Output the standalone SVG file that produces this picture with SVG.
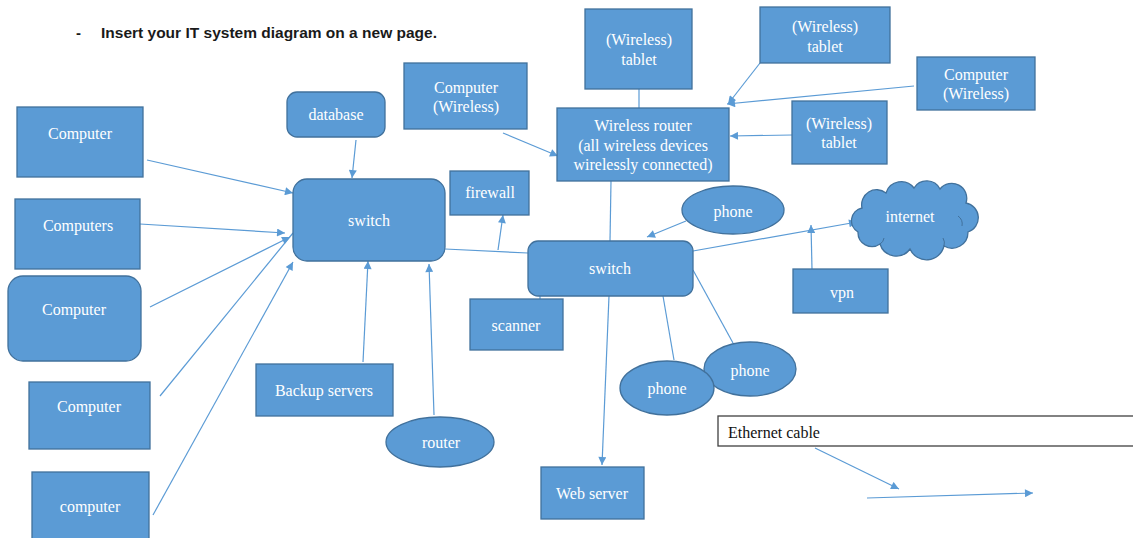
<svg xmlns="http://www.w3.org/2000/svg" width="1133" height="538" viewBox="0 0 1133 538">
<style>
.n{fill:#5B9BD5;stroke:#41719C;stroke-width:1.3}
.t{font-family:"Liberation Serif","Times New Roman",serif;font-size:16px;fill:#ffffff;text-anchor:middle}
.c{stroke:#5B9BD5;stroke-width:1.2;fill:none}
.a{marker-end:url(#ah)}
</style>
<defs>
<marker id="ah" viewBox="0 0 10 10" refX="10" refY="5" markerWidth="10" markerHeight="8" orient="auto" markerUnits="userSpaceOnUse">
<path d="M0,0 L10,5 L0,10 z" fill="#5B9BD5"/>
</marker>
</defs>
<rect width="1133" height="538" fill="#ffffff"/>
<g id="title">
<text x="76" y="38" font-family="'Liberation Sans',Arial,sans-serif" font-size="15" font-weight="bold" fill="#1a1a1a">-</text>
<text x="101" y="38" font-family="'Liberation Sans',Arial,sans-serif" font-size="15" font-weight="bold" fill="#1a1a1a" textLength="336" lengthAdjust="spacingAndGlyphs">Insert your IT system diagram on a new page.</text>
</g>
<g id="connectors">
<path class="c a" d="M147,160 L293,193"/>
<path class="c a" d="M140,224 L285,233"/>
<path class="c a" d="M150,307 L290,237"/>
<path class="c" d="M160,396 L293,233"/>
<path class="c a" d="M153,515 L293,262"/>
<path class="c a" d="M363,362 L368,261"/>
<path class="c a" d="M434,415 L429,264"/>
<path class="c a" d="M356,140 L352,178"/>
<path class="c" d="M445,249 L528,253"/>
<path class="c a" d="M498,250 L503,215"/>
<path class="c" d="M639,89 L639,108"/>
<path class="c a" d="M503,133 L558,156"/>
<path class="c a" d="M760,63 L728,104"/>
<path class="c a" d="M914,86 L727,104"/>
<path class="c a" d="M792,135 L730,136"/>
<path class="c" d="M611,181 L610,241"/>
<path class="c a" d="M686,221 L647,237"/>
<path class="c a" d="M693,251 L857,222"/>
<path class="c a" d="M812,269 L811,225"/>
<path class="c" d="M540,296 L540,299"/>
<path class="c a" d="M609,296 L602,465"/>
<path class="c" d="M663,296 L674,360"/>
<path class="c" d="M693,270 L733,343"/>
<path class="c a" d="M815,448 L899,489"/>
<path class="c a" d="M867,498 L1033,493"/>
</g>
<g id="computer1"><rect class="n" x="17" y="107" width="126" height="70"/><text class="t" x="80" y="139">Computer</text></g>
<g id="computers"><rect class="n" x="15" y="199" width="125" height="70"/><text class="t" x="78" y="231">Computers</text></g>
<g id="computer2"><rect class="n" x="8" y="276" width="133" height="85" rx="15"/><text class="t" x="74" y="315">Computer</text></g>
<g id="computer3"><rect class="n" x="29" y="382" width="121" height="67"/><text class="t" x="89" y="412">Computer</text></g>
<g id="computer4"><rect class="n" x="32" y="472" width="117" height="70"/><text class="t" x="90" y="512">computer</text></g>
<g id="database"><rect class="n" x="287" y="92" width="98" height="45" rx="10"/><text class="t" x="336" y="120">database</text></g>
<g id="switch1"><rect class="n" x="293" y="179" width="152" height="82" rx="14"/><text class="t" x="369" y="226">switch</text></g>
<g id="backup"><rect class="n" x="256" y="364" width="137" height="52"/><text class="t" x="324" y="396">Backup servers</text></g>
<g id="router"><ellipse class="n" cx="440" cy="442" rx="54" ry="25"/><text class="t" x="441" y="448">router</text></g>
<g id="firewall"><rect class="n" x="450" y="171" width="79" height="44"/><text class="t" x="490" y="198">firewall</text></g>
<g id="compwl1"><rect class="n" x="404" y="63" width="123" height="66"/><text class="t" x="466" y="93">Computer</text><text class="t" x="466" y="112">(Wireless)</text></g>
<g id="tablet1"><rect class="n" x="585" y="9" width="107" height="80"/><text class="t" x="639" y="45">(Wireless)</text><text class="t" x="639" y="65">tablet</text></g>
<g id="wrouter"><rect class="n" x="557" y="108" width="172" height="73"/><text class="t" x="643" y="131">Wireless router</text><text class="t" x="643" y="151">(all wireless devices</text><text class="t" x="643" y="170">wirelessly connected)</text></g>
<g id="tablet2"><rect class="n" x="760" y="7" width="130" height="56"/><text class="t" x="825" y="32">(Wireless)</text><text class="t" x="825" y="52">tablet</text></g>
<g id="compwl2"><rect class="n" x="917" y="57" width="118" height="53"/><text class="t" x="976" y="80">Computer</text><text class="t" x="976" y="99">(Wireless)</text></g>
<g id="tablet3"><rect class="n" x="792" y="101" width="95" height="63"/><text class="t" x="839" y="129">(Wireless)</text><text class="t" x="839" y="148">tablet</text></g>
<g id="phone1"><ellipse class="n" cx="733" cy="210" rx="51" ry="24"/><text class="t" x="733" y="217">phone</text></g>
<g id="switch2"><rect class="n" x="528" y="241" width="165" height="55" rx="10"/><text class="t" x="610" y="274">switch</text></g>
<g id="internet"><path class="n" d="M862,208 A15,15 0 0 1 886,193 A16,16 0 0 1 914,188 A15,15 0 0 1 940,189 A15,15 0 0 1 966,203 A15,15 0 0 1 968,232 A16,16 0 0 1 944,246 A18,18 0 0 1 910,249 A17,17 0 0 1 880,244 A14,14 0 0 1 858,232 A13,13 0 0 1 862,208 Z"/><path d="M958,216 A10,10 0 0 1 962,226 M944,246 A10,10 0 0 0 943,238 M880,244 A8,8 0 0 0 884,238" stroke="#41719C" stroke-width="1" fill="none"/><text class="t" x="910" y="222">internet</text></g>
<g id="vpn"><rect class="n" x="793" y="269" width="95" height="44"/><text class="t" x="842" y="298">vpn</text></g>
<g id="scanner"><rect class="n" x="470" y="299" width="93" height="51"/><text class="t" x="516" y="331">scanner</text></g>
<g id="phone3"><ellipse class="n" cx="750" cy="369" rx="46" ry="27"/><text class="t" x="750" y="376">phone</text></g>
<g id="phone2"><ellipse class="n" cx="667" cy="388" rx="47" ry="27"/><text class="t" x="667" y="394">phone</text></g>
<g id="webserver"><rect class="n" x="541" y="467" width="103" height="52"/><text class="t" x="592" y="499">Web server</text></g>
<g id="ethernet"><rect x="718" y="416" width="420" height="30" fill="#ffffff" stroke="#404040" stroke-width="1.3"/><text x="728" y="438" font-family="'Liberation Serif','Times New Roman',serif" font-size="16" fill="#111111">Ethernet cable</text></g>
</svg>
